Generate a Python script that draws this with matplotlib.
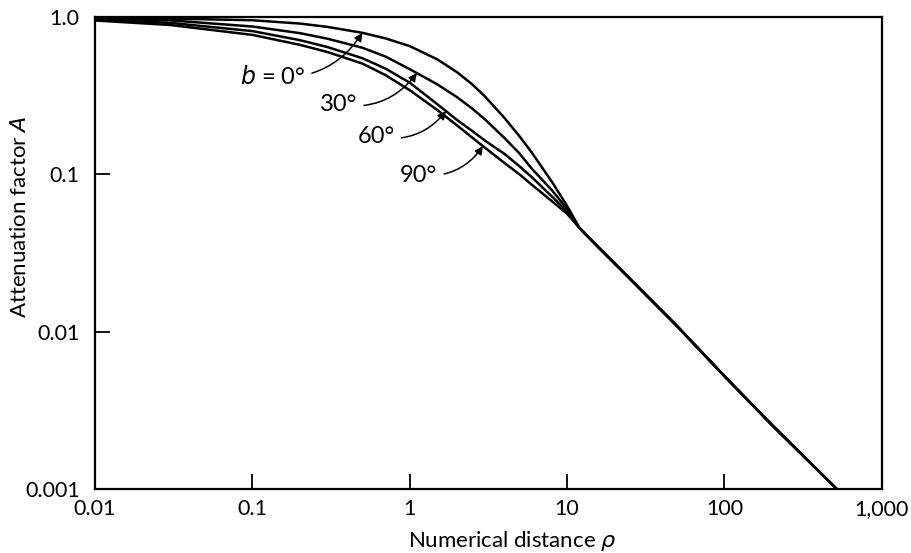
import numpy as np
import matplotlib
matplotlib.use("Agg")
import matplotlib.pyplot as plt

plt.rcParams['font.family'] = ['Lato', 'DejaVu Sans']
plt.rcParams['mathtext.fontset'] = 'dejavusans'

# numerical distance p (log axis)
rho = [0.01, 0.03, 0.1, 0.2, 0.3, 0.5, 0.7, 1, 1.5, 2, 2.5, 3, 4, 5, 6, 8, 10]

# attenuation factor A for each angle b
A_0 = [0.9931, 0.9768, 0.9535, 0.9083, 0.8650, 0.7930, 0.7317, 0.6530, 0.5373,
       0.4456, 0.3726, 0.3135, 0.2284, 0.1739, 0.1365, 0.0899, 0.0630]
A_30 = [0.9784, 0.9519, 0.8698, 0.7896, 0.7278, 0.6374, 0.5610, 0.4659, 0.3727,
        0.3091, 0.2615, 0.2239, 0.1703, 0.1353, 0.1080, 0.0794, 0.0603]
A_60 = [0.9640, 0.9175, 0.8134, 0.7127, 0.6440, 0.5470, 0.4704, 0.3824, 0.2787,
        0.2214, 0.1884, 0.1641, 0.1349, 0.1122, 0.0955, 0.0724, 0.0582]
A_90 = [0.9500, 0.8894, 0.7695, 0.6656, 0.5989, 0.5058, 0.4276, 0.3426, 0.2560,
        0.2045, 0.1710, 0.1479, 0.1181, 0.0997, 0.0855, 0.0676, 0.0562]

# beyond p ~ 12 the four curves run together
rho_tail = [12, 16, 22.6, 50, 100, 200, 518]
A_tail = [0.0456, 0.0340, 0.0241, 0.01086, 0.00522, 0.00256, 0.001]

angles = ['$b$ = 0°', '30°', '60°', '90°']
tip_rho = [0.5, 1.11, 1.70, 2.92]
label_pos = [(0.267, 0.873), (0.333, 0.814), (0.381, 0.746), (0.435, 0.665)]

xticks = [0.01, 0.1, 1, 10, 100, 1000]
xlabels = ['0.01', '0.1', '1', '10', '100', '1,000']
yticks = [0.001, 0.01, 0.1, 1.0]
ylabels = ['0.001', '0.01', '0.1', '1.0']

fig = plt.figure(figsize=(9.12, 5.53), dpi=100)
ax = fig.add_axes([0.1042, 0.1157, 0.8626, 0.8536])

curves = [A_0, A_30, A_60, A_90]
for A in curves:
    ax.plot(rho + rho_tail, A + A_tail, color='black', lw=1.8,
            solid_joinstyle='round')

ax.set_xscale('log')
ax.set_yscale('log')
ax.set_xlim(0.01, 1000)
ax.set_ylim(0.001, 1.0)

ax.set_xticks(xticks, xlabels)
ax.set_yticks(yticks, ylabels)
ax.minorticks_off()
ax.tick_params(direction='in', length=11, width=1.3, labelsize=15.5, colors='black')
ax.tick_params(axis='x', pad=7)
ax.tick_params(axis='y', pad=11)
for s in ax.spines.values():
    s.set_linewidth(1.6)

# labels with arrows pointing onto each curve
for name, A, tr, pos in zip(angles, curves, tip_rho, label_pos):
    ta = 10 ** np.interp(np.log10(tr), np.log10(rho), np.log10(A))
    ax.annotate(name, xy=(tr, ta), xycoords='data',
                xytext=pos, textcoords='axes fraction',
                ha='right', va='center', fontsize=17,
                arrowprops=dict(arrowstyle='-|>', color='black', lw=1.1,
                                mutation_scale=12, shrinkA=3, shrinkB=0,
                                connectionstyle='arc3,rad=0.3'))

ax.set_xlabel('Numerical distance $\\rho$', fontsize=16)
ax.set_ylabel('Attenuation factor $A$', fontsize=16)
ax.xaxis.set_label_coords(0.53, -0.085)
ax.yaxis.set_label_coords(-0.083, 0.576)

fig.savefig('out.png', dpi=100)
